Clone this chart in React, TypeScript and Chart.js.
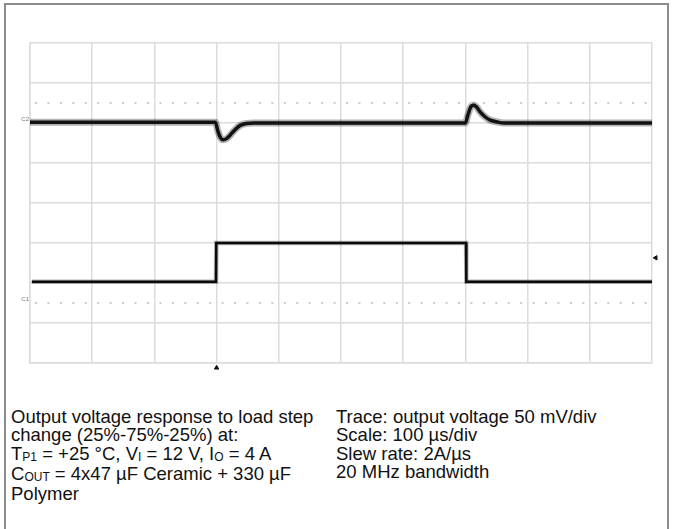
import React, { useEffect, useRef } from "react";
import { Chart, registerables } from "chart.js";
Chart.register(...registerables);

// Time axis: µs, 100 µs/div, 10 divisions. Vertical axis: screen divisions (0..8).
const xTicksUs = [0, 100, 200, 300, 400, 500, 600, 700, 800, 900, 1000];
const yTicksDiv = [0, 1, 2, 3, 4, 5, 6, 7, 8];

// Upper trace (C2): output voltage, 50 mV/div
const voutTimeUs = [0, 298, 302, 306, 310, 316, 322, 330, 338, 348, 360, 700, 704, 708, 712, 718, 724, 732, 740, 750, 762, 1000];
const voutDiv = [6.02, 6.02, 5.8, 5.64, 5.58, 5.61, 5.7, 5.84, 5.94, 5.99, 6.0, 6.0, 6.2, 6.38, 6.45, 6.4, 6.27, 6.15, 6.07, 6.03, 6.0, 6.0];

// Lower trace (C1): load current step 25%-75%-25%
const ioutTimeUs = [3, 299, 299.5, 701, 701.5, 1000];
const ioutDiv = [2.03, 2.03, 3.0, 3.0, 2.03, 2.03];

// Dotted reference rows
const refRowsDiv = [6.5, 1.5];

// Markers: trigger position (bottom) and trigger level (right)
const triggerTimeUs = 300;
const triggerLevelDiv = 2.63;

const channelLabels = [
  { text: "C2", y: 6.08 },
  { text: "C1", y: 1.58 },
];

const sub = (s: string) => <span style={{ fontSize: 12, position: "relative", top: 1 }}>{s}</span>;

const leftLines: React.ReactNode[] = [
  "Output voltage response to load step",
  "change (25%-75%-25%) at:",
  <>T{sub("P1")} = +25 °C, V{sub("I")} = 12 V, I{sub("O")} = 4 A</>,
  <>C{sub("OUT")} = 4x47 µF Ceramic + 330 µF</>,
  "Polymer",
];
const rightLines = [
  "Trace: output voltage 50 mV/div",
  "Scale: 100 µs/div",
  "Slew rate: 2A/µs",
  "20 MHz bandwidth",
];

const labelPlugin = {
  id: "chLabels",
  afterDatasetsDraw(chart: any) {
    const ctx = chart.ctx;
    const ys = chart.scales.y;
    const left = chart.chartArea.left;
    ctx.save();
    ctx.font = '6px "Liberation Sans", Arial, sans-serif';
    ctx.fillStyle = "#777";
    ctx.textAlign = "right";
    ctx.textBaseline = "middle";
    channelLabels.forEach((l) => {
      ctx.fillText(l.text, left - 1, ys.getPixelForValue(l.y));
    });
    ctx.restore();
  },
};

export default function App() {
  const ref = useRef<HTMLCanvasElement>(null);
  useEffect(() => {
    if (!ref.current) return;
    const gridColor = "#dcdcdc";
    const vout = voutTimeUs.map((t, i) => ({ x: t, y: voutDiv[i] }));
    const iout = ioutTimeUs.map((t, i) => ({ x: t, y: ioutDiv[i] }));
    const chart = new Chart(ref.current, {
      type: "line",
      data: {
        datasets: [
          ...refRowsDiv.map((r) => ({
            data: [
              { x: xTicksUs[0], y: r },
              { x: xTicksUs[xTicksUs.length - 1], y: r },
            ],
            borderColor: "#cccccc",
            borderWidth: 2,
            borderDash: [2, 10.44],
            borderDashOffset: -5,
            pointRadius: 0,
          })),
          {
            data: vout,
            borderColor: "rgba(0,0,0,0.3)",
            borderWidth: 7,
            pointRadius: 0,
            cubicInterpolationMode: "monotone",
          },
          {
            data: vout,
            borderColor: "#1a1a1a",
            borderWidth: 3.5,
            pointRadius: 0,
            cubicInterpolationMode: "monotone",
          },
          {
            data: iout,
            borderColor: "rgba(0,0,0,0.3)",
            borderWidth: 4.5,
            pointRadius: 0,
          },
          {
            data: iout,
            borderColor: "#111",
            borderWidth: 2.5,
            pointRadius: 0,
          },
          {
            data: [{ x: triggerTimeUs, y: -0.12 }],
            showLine: false,
            pointStyle: "triangle",
            pointRadius: 2.5,
            backgroundColor: "#111",
            borderColor: "#111",
            clip: false,
          },
          {
            data: [{ x: 1006, y: triggerLevelDiv }],
            showLine: false,
            pointStyle: "triangle",
            pointRotation: -90,
            pointRadius: 2.5,
            backgroundColor: "#111",
            borderColor: "#111",
            clip: false,
          },
        ] as any,
      },
      options: {
        responsive: false,
        animation: false,
        devicePixelRatio: 1,
        layout: { padding: { left: 30, top: 43, right: 24, bottom: 17 } },
        plugins: { legend: { display: false }, tooltip: { enabled: false } },
        scales: {
          x: {
            type: "linear",
            min: xTicksUs[0],
            max: xTicksUs[xTicksUs.length - 1],
            afterBuildTicks: (s: any) => {
              s.ticks = xTicksUs.map((v) => ({ value: v }));
            },
            ticks: { display: false },
            grid: { color: gridColor, lineWidth: 1.5, drawTicks: false },
            border: { display: true, color: gridColor, width: 1.5 },
          },
          y: {
            type: "linear",
            min: yTicksDiv[0],
            max: yTicksDiv[yTicksDiv.length - 1],
            afterBuildTicks: (s: any) => {
              s.ticks = yTicksDiv.map((v) => ({ value: v }));
            },
            ticks: { display: false },
            grid: { color: gridColor, lineWidth: 1.5, drawTicks: false },
            border: { display: true, color: gridColor, width: 1.5 },
          },
        },
      },
      plugins: [labelPlugin],
    });
    return () => chart.destroy();
  }, []);

  const textStyle: React.CSSProperties = {
    position: "absolute",
    top: 408,
    fontFamily: '"Liberation Sans", Arial, sans-serif',
    fontSize: 18.5,
    lineHeight: "18.3px",
    color: "#111",
    whiteSpace: "pre",
  };

  return (
    <div style={{ position: "fixed", left: 0, top: 0, width: 676, height: 529, background: "#fff", overflow: "hidden" }}>
      <div
        style={{
          position: "absolute",
          left: 4,
          top: 3,
          width: 665,
          height: 600,
          border: "2px solid #8c8c8c",
          borderBottom: "none",
          boxSizing: "border-box",
        }}
      />
      <canvas ref={ref} width={676} height={380} style={{ position: "absolute", left: 0, top: 0, width: 676, height: 380 }} />
      <div style={{ ...textStyle, left: 11 }}>
        {leftLines.map((l, i) => (
          <div key={i}>{l}</div>
        ))}
      </div>
      <div style={{ ...textStyle, left: 336 }}>
        {rightLines.map((l, i) => (
          <div key={i}>{l}</div>
        ))}
      </div>
    </div>
  );
}
